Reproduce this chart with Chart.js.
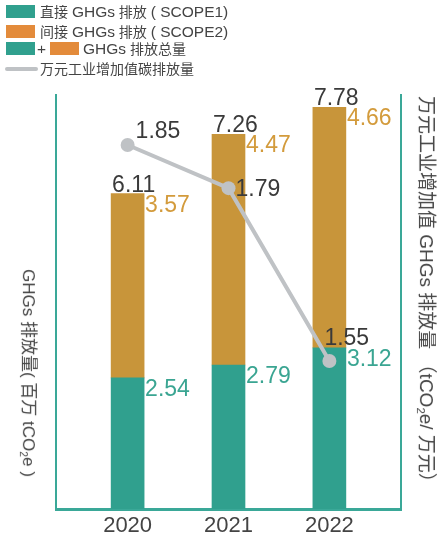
<!DOCTYPE html>
<html>
<head>
<meta charset="utf-8">
<script src="https://cdn.jsdelivr.net/npm/chart.js@4"></script>
<style>
  body { margin: 0; background: #fff; }
  #wrap { position: relative; width: 439px; height: 538px; font-family: "Liberation Sans", Arial, "Noto Sans CJK SC", sans-serif; color: #444; }
  #chart { position: absolute; left: 0; top: 0; }
  .leg { position: absolute; left: 0; font-size: 14px; line-height: 14px; white-space: nowrap; }
  .lat { font-size: 15.5px; }
  .patch { position: absolute; height: 13px; width: 29px; }
  .ltxt { position: absolute; }
  .ytitle { position: absolute; white-space: nowrap; transform-origin: center center; line-height: 20px; }
  sub { font-size: 0.6em; vertical-align: -0.3em; line-height: 0; }
</style>
</head>
<body>
<div id="wrap">
  <canvas id="chart" width="439" height="538"></canvas>

  <div class="leg" style="top:5px">
    <span class="patch" style="left:6px;top:0;background:#30a08e"></span>
    <span class="ltxt" style="left:40px;top:0">直接 <span class="lat">GHGs</span> 排放 <span class="lat">( SCOPE1)</span></span>
  </div>
  <div class="leg" style="top:25px">
    <span class="patch" style="left:6px;top:0;background:#e38b3b"></span>
    <span class="ltxt" style="left:40px;top:0">间接 <span class="lat">GHGs</span> 排放 <span class="lat">( SCOPE2)</span></span>
  </div>
  <div class="leg" style="top:42px">
    <span class="patch" style="left:6px;top:0;background:#30a08e"></span>
    <span class="ltxt lat" style="left:37px;top:0">+</span>
    <span class="patch" style="left:50px;top:0;background:#e38b3b"></span>
    <span class="ltxt" style="left:83px;top:0"><span class="lat">GHGs</span> 排放总量</span>
  </div>
  <div class="leg" style="top:62px">
    <span style="position:absolute;left:5px;top:5px;width:33px;height:4px;border-radius:2px;background:#bfc2c5"></span>
    <span class="ltxt" style="left:40px;top:0">万元工业增加值碳排放量</span>
  </div>

  <div class="ytitle" id="leftTitle" style="font-size:17px">GHGs 排放量( 百万 tCO<sub>2</sub>e )</div>
  <div class="ytitle" id="rightTitle" style="font-size:19px">万元工业增加值 GHGs 排放量 （tCO<sub>2</sub>e/ 万元）</div>
</div>

<script>
// chart data
const years = [2020, 2021, 2022];
const scope1 = [2.54, 2.79, 3.12];
const scope2 = [3.57, 4.47, 4.66];
const intensity = [1.85, 1.79, 1.55];

const TEAL = '#30a08e';
const ORANGE = '#c8953a';
const GREY = '#bfc2c5';
const AXIS = '#3aa898';

// place rotated axis titles around their centre points
function placeTitle(id, cx, cy) {
    const el = document.getElementById(id);
    const w = el.offsetWidth, h = el.offsetHeight;
    el.style.left = (cx - w / 2) + 'px';
    el.style.top = (cy - h / 2) + 'px';
    el.style.transform = 'rotate(90deg)';
}
placeTitle('leftTitle', 28, 373);
placeTitle('rightTitle', 426, 294);

const valueLabels = {
    id: 'valueLabels',
    afterDatasetsDraw(chart) {
        const ctx = chart.ctx;
        const m1 = chart.getDatasetMeta(0);
        const m2 = chart.getDatasetMeta(1);
        const ml = chart.getDatasetMeta(2);
        ctx.save();
        ctx.font = '23px "Liberation Sans", Arial, sans-serif';
        ctx.textAlign = 'left';
        ctx.textBaseline = 'alphabetic';

        m1.data.forEach((bar, i) => {
            ctx.fillStyle = '#3aa592';
            ctx.fillText(scope1[i].toFixed(2), bar.x + bar.width / 2 + 1, bar.y + 18);
        });
        m2.data.forEach((bar, i) => {
            ctx.fillStyle = '#d39b3c';
            ctx.fillText(scope2[i].toFixed(2), bar.x + bar.width / 2 + 1, bar.y + 18);
            ctx.fillStyle = '#3a3a3a';
            ctx.fillText((scope1[i] + scope2[i]).toFixed(2), bar.x - bar.width / 2 + 1, bar.y - 2);
        });

        const offs = [[8, -7], [7, 8], [-5, -16]];
        ml.data.forEach((pt, i) => {
            ctx.fillStyle = '#3a3a3a';
            ctx.fillText(intensity[i].toFixed(2), pt.x + offs[i][0], pt.y + offs[i][1]);
        });
        ctx.restore();
    }
};

new Chart(document.getElementById('chart'), {
    data: {
        labels: years,
        datasets: [
            {
                type: 'bar',
                label: 'SCOPE1',
                data: scope1,
                backgroundColor: TEAL,
                barThickness: 33,
                yAxisID: 'y',
                order: 1
            },
            {
                type: 'bar',
                label: 'SCOPE2',
                data: scope2,
                backgroundColor: ORANGE,
                barThickness: 33,
                yAxisID: 'y',
                order: 1
            },
            {
                type: 'line',
                label: '万元工业增加值碳排放量',
                data: intensity,
                yAxisID: 'y1',
                borderColor: GREY,
                borderWidth: 4,
                pointRadius: 7,
                pointBackgroundColor: GREY,
                pointBorderWidth: 0,
                order: 0
            }
        ]
    },
    options: {
        responsive: false,
        animation: false,
        layout: { padding: { left: 56, right: 38, top: 95, bottom: 0 } },
        plugins: {
            legend: { display: false },
            tooltip: { enabled: false }
        },
        scales: {
            x: {
                type: 'linear',
                stacked: true,
                offset: false,
                min: 2019.29,
                max: 2022.71,
                afterBuildTicks: (scale) => { scale.ticks = years.map(v => ({ value: v })); },
                afterFit: (scale) => { scale.height = 29; },
                grid: { display: false, drawTicks: false },
                border: { display: true, color: AXIS, width: 3 },
                ticks: {
                    padding: 4,
                    color: '#444',
                    font: { family: '"Liberation Sans", Arial, sans-serif', size: 22 },
                    callback: (v) => String(v)
                }
            },
            y: {
                stacked: true,
                min: 0,
                max: 8.02,
                position: 'left',
                afterFit: (scale) => { scale.width = 0; },
                grid: { display: false, drawTicks: false },
                border: { display: true, color: AXIS, width: 2 },
                ticks: { display: false }
            },
            y1: {
                min: 1.3444,
                max: 1.9194,
                position: 'right',
                afterFit: (scale) => { scale.width = 0; },
                grid: { display: false, drawTicks: false },
                border: { display: true, color: AXIS, width: 2 },
                ticks: { display: false }
            }
        }
    },
    plugins: [valueLabels]
});
</script>
</body>
</html>
